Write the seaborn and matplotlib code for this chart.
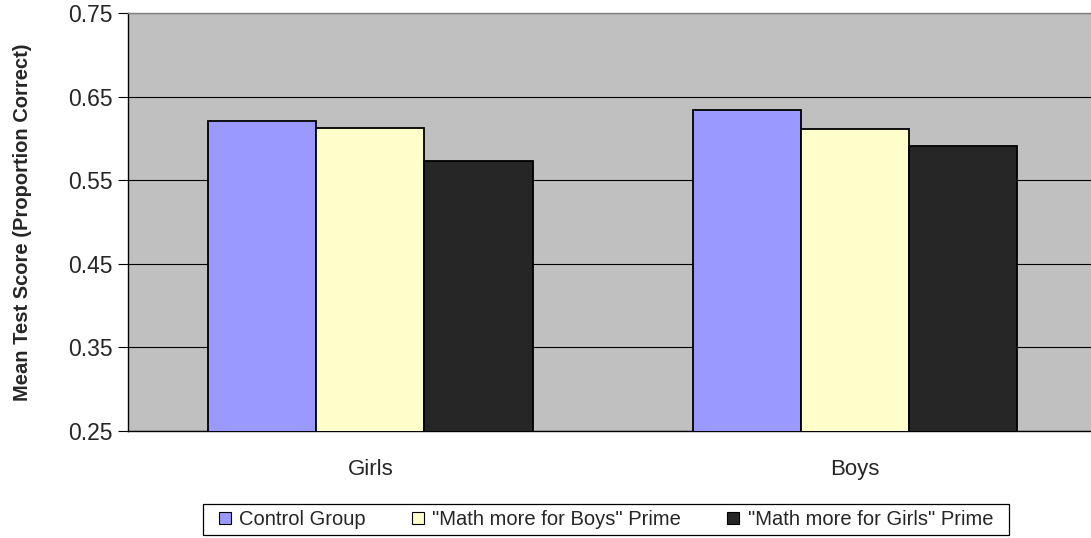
import matplotlib
matplotlib.use("Agg")
import matplotlib.pyplot as plt
from matplotlib.patches import Rectangle
import seaborn as sns
import pandas as pd

# Mean test scores by student gender and prime condition
genders = ["Girls", "Boys"]
conditions = ["Control Group", "\"Math more for Boys\" Prime", "\"Math more for Girls\" Prime"]
control_scores = [0.621, 0.634]
boys_prime_scores = [0.613, 0.611]
girls_prime_scores = [0.573, 0.591]
palette = ["#9999FF", "#FFFFCC", "#262626"]
y_ticks = [0.25, 0.35, 0.45, 0.55, 0.65, 0.75]

rows = []
for cond, vals in zip(conditions, [control_scores, boys_prime_scores, girls_prime_scores]):
    for g, v in zip(genders, vals):
        rows.append({"Gender": g, "Condition": cond, "Score": v})
df = pd.DataFrame(rows)

sns.set_style("white")
plt.rcParams["font.family"] = ["Liberation Sans", "DejaVu Sans"]

W, H = 1091, 538
fig = plt.figure(figsize=(W / 100, H / 100), dpi=100)
# the plot area runs slightly past the right edge of the canvas
ax = fig.add_axes([128 / W, 1 - 431 / H, (1097.4 - 128) / W, (431 - 13.3) / H])
ax.set_facecolor("#C0C0C0")

sns.barplot(data=df, x="Gender", y="Score", hue="Condition", order=genders,
            hue_order=conditions, palette=palette, width=0.67, saturation=1,
            edgecolor="black", linewidth=1.3, ax=ax, zorder=3)

ax.set_ylim(0.25, 0.75)
ax.set_xlim(-0.5, 1.5)
ax.set_yticks(y_ticks)
ax.set_yticklabels([f"{t:.2f}" for t in y_ticks], fontsize=16.5)
ax.yaxis.grid(True, color="black", linewidth=0.8, zorder=0)
ax.set_axisbelow(True)

# category labels without marks, boundary marks between categories
ax.tick_params(axis="x", which="major", length=0, pad=20, labelsize=16)
ax.set_xticks([-0.5, 0.5, 1.5], minor=True)
ax.tick_params(axis="x", which="minor", length=6.5, width=0.8, color="black", direction="out")
ax.tick_params(axis="y", length=7, width=0.8, color="black", direction="out", left=True, pad=4)

ax.set_xlabel("")
ax.set_ylabel("Mean Test Score (Proportion Correct)", fontsize=14.5, fontweight="bold", labelpad=26)

for side in ["top", "right"]:
    ax.spines[side].set_visible(True)
    ax.spines[side].set_color("#808080")
    ax.spines[side].set_linewidth(1)
for side in ["left", "bottom"]:
    ax.spines[side].set_color("black")
    ax.spines[side].set_linewidth(1)

ax.legend_.remove()
handles = [Rectangle((0, 0), 1, 1, facecolor=c, edgecolor="black", linewidth=0.8) for c in palette]
leg = fig.legend(handles, conditions, loc="center", bbox_to_anchor=(606 / W, 1 - 519.5 / H),
                 ncol=3, frameon=False, fontsize=14.5, handlelength=0.6,
                 handleheight=0.6, handletextpad=0.4, columnspacing=2.3, borderpad=0.2)
# legend border box
fig.patches.append(Rectangle((203 / W, 1 - 535 / H), (1009 - 203) / W, (535 - 504) / H,
                             transform=fig.transFigure, facecolor="none",
                             edgecolor="black", linewidth=0.9))

fig.savefig("out.png", dpi=100)
